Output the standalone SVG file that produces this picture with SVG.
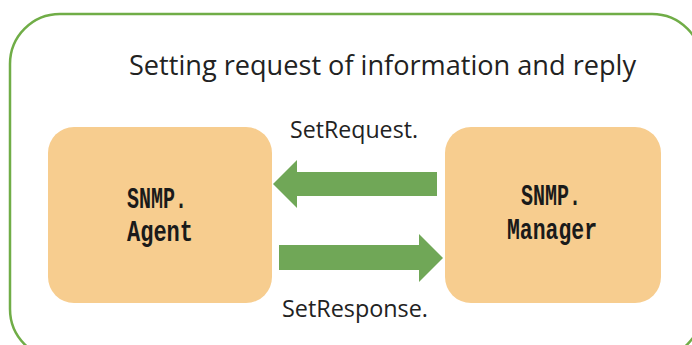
<svg xmlns="http://www.w3.org/2000/svg" width="692" height="345" viewBox="0 0 692 345">
<style>
.frame{fill:#fff;stroke:#70AD47;stroke-width:2.5}
.node{fill:#F7CD8F}
.arrow{fill:#70A757}
.title{font-family:"Open Sans","Noto Sans",sans-serif;font-size:27px;fill:#222}
.lbl{font-family:"Open Sans","Noto Sans",sans-serif;font-size:24px;fill:#222}
.ntxt{font-family:"Liberation Mono","DejaVu Sans Mono",monospace;font-weight:bold;font-size:29px;fill:#1a1a1a}
</style>
<rect class="frame" x="10" y="14" width="692" height="345" rx="50"/>
<text class="title" x="129" y="75" textLength="507" lengthAdjust="spacingAndGlyphs">Setting request of information and reply</text>
<g id="agent">
<rect class="node" x="48" y="127" width="224" height="176" rx="26"/>
<text class="ntxt" x="127" y="208" textLength="60" lengthAdjust="spacingAndGlyphs">SNMP.</text>
<text class="ntxt" x="127" y="241" textLength="66" lengthAdjust="spacingAndGlyphs">Agent</text>
</g>
<g id="manager">
<rect class="node" x="445" y="127" width="216" height="176" rx="26"/>
<text class="ntxt" x="521" y="205" textLength="60" lengthAdjust="spacingAndGlyphs">SNMP.</text>
<text class="ntxt" x="507" y="239" textLength="90" lengthAdjust="spacingAndGlyphs">Manager</text>
</g>
<g id="connectors">
<polygon class="arrow" points="273,184 297,160 297,172 437,172 437,196 297,196 297,208"/>
<polygon class="arrow" points="443,258 419,234 419,245 279,245 279,270 419,270 419,282"/>
<text class="lbl" x="290" y="138" textLength="128" lengthAdjust="spacingAndGlyphs">SetRequest.</text>
<text class="lbl" x="282" y="317" textLength="146" lengthAdjust="spacingAndGlyphs">SetResponse.</text>
</g>
</svg>
